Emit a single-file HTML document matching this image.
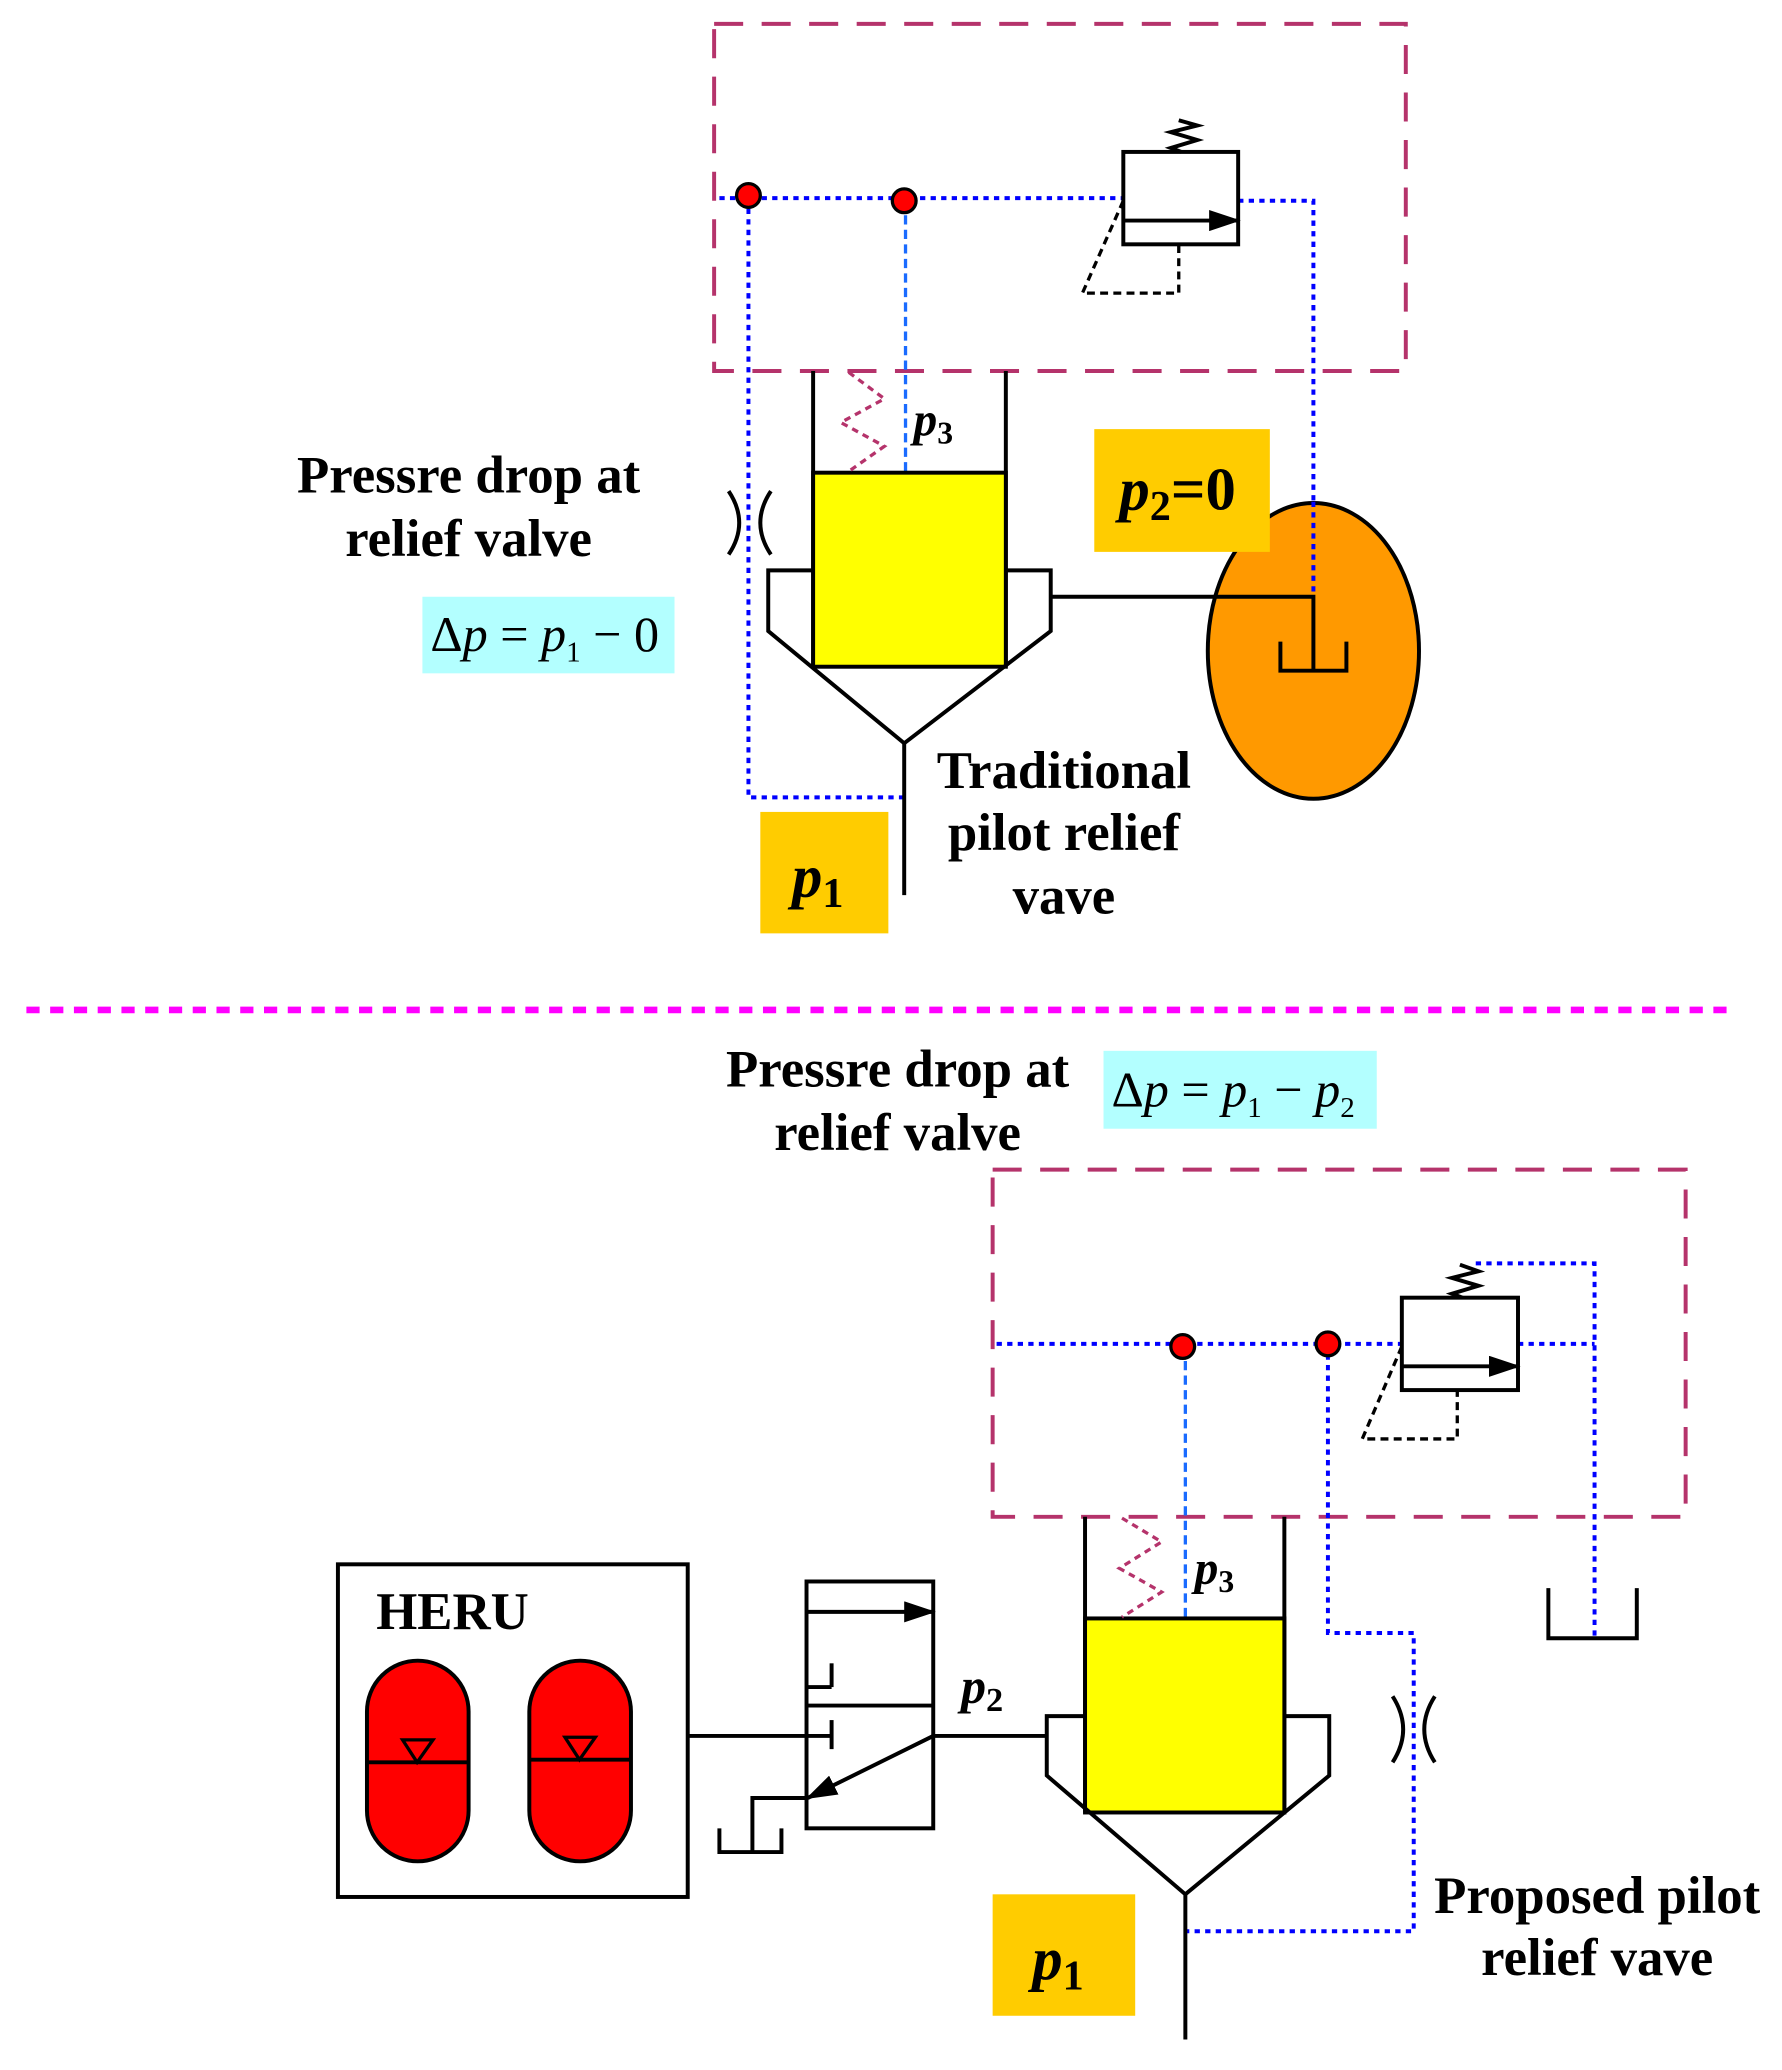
<!DOCTYPE html>
<html><head><meta charset="utf-8">
<style>
html,body{margin:0;padding:0;background:#fff;}
svg{display:block;}
text{font-family:"Liberation Serif",serif;}
</style></head>
<body>
<svg width="1782" height="2070" viewBox="0 0 1350 1568" xmlns="http://www.w3.org/2000/svg">
<defs>
<marker id="ah2" markerWidth="24" markerHeight="16" refX="22" refY="8" orient="auto" markerUnits="userSpaceOnUse"><path d="M0,0 L24,8 L0,16 z" fill="#000"/></marker>
</defs>
<g fill="none" stroke-linecap="butt">
<!-- TOP -->
<rect x="541" y="18" width="524" height="263" stroke="#B5336B" stroke-width="3" stroke-dasharray="22,14"/>
<polyline points="545,150 851,150" stroke="#0000ff" stroke-width="3" stroke-dasharray="4,4"/>
<polyline points="567,150 567,604 685,604" stroke="#0000ff" stroke-width="3" stroke-dasharray="4,4"/>
<line x1="686" y1="152" x2="686" y2="358" stroke="#1a6bff" stroke-width="2.5" stroke-dasharray="7,4"/>
<polyline points="938,152 995,152 995,452" stroke="#0000ff" stroke-width="3" stroke-dasharray="4,4"/>
<ellipse cx="995" cy="493" rx="80" ry="112" fill="#FF9900" stroke="#000" stroke-width="3"/>
<polyline points="796,452 995,452 995,508" stroke="#000" stroke-width="3"/>
<polyline points="970,486 970,508 1020,508 1020,486" stroke="#000" stroke-width="3"/>
<line x1="995" y1="380" x2="995" y2="452" stroke="#0000ff" stroke-width="3" stroke-dasharray="4,4"/>
<rect x="851" y="115" width="87" height="70" fill="#fff" stroke="#000" stroke-width="3"/>
<line x1="851" y1="167" x2="938" y2="167" stroke="#000" stroke-width="3" marker-end="url(#ah2)"/>
<polyline points="895,115 887,112 907,106 887,100 907,95 893,91" stroke="#000" stroke-width="3"/>
<polyline points="851,152 820,222 893,222 893,185" stroke="#000" stroke-width="2.5" stroke-dasharray="6,4"/>
<circle cx="567" cy="148" r="9" fill="#f00" stroke="#000" stroke-width="2.5"/>
<circle cx="685" cy="152" r="9" fill="#f00" stroke="#000" stroke-width="2.5"/>
<polyline points="616,281 616,505" stroke="#000" stroke-width="3"/>
<polyline points="762,281 762,505" stroke="#000" stroke-width="3"/>
<rect x="616" y="358" width="146" height="147" fill="#ffff00" stroke="#000" stroke-width="3"/>
<polyline points="643,282 670,302 637,320 670,338 643,357" stroke="#B5336B" stroke-width="2.5" stroke-dasharray="5,4"/>
<polyline points="616,432 582,432 582,478 685,563 796,478 796,432 762,432" stroke="#000" stroke-width="3"/>
<line x1="685" y1="563" x2="685" y2="678" stroke="#000" stroke-width="3"/>
<path d="M552,372 Q568,396 552,420 M584,372 Q568,396 584,420" stroke="#000" stroke-width="3"/>
<line x1="20" y1="765" x2="1315" y2="765" stroke="#ff00ff" stroke-width="5" stroke-dasharray="10,8"/>

<!-- BOTTOM -->
<rect x="752" y="886" width="525" height="263" stroke="#B5336B" stroke-width="3" stroke-dasharray="22,14"/>
<line x1="755" y1="1018" x2="1062" y2="1018" stroke="#0000ff" stroke-width="3" stroke-dasharray="4,4"/>
<line x1="1150" y1="1018" x2="1208" y2="1018" stroke="#0000ff" stroke-width="3" stroke-dasharray="4,4"/>
<polyline points="1118,957 1208,957 1208,1240" stroke="#0000ff" stroke-width="3" stroke-dasharray="4,4"/>
<polyline points="1173,1203 1173,1241 1240,1241 1240,1203" stroke="#000" stroke-width="3"/>
<line x1="898" y1="1020" x2="898" y2="1226" stroke="#1a6bff" stroke-width="2.5" stroke-dasharray="7,4"/>
<polyline points="1006,1018 1006,1237 1071,1237 1071,1463 898,1463" stroke="#0000ff" stroke-width="3" stroke-dasharray="4,4"/>
<rect x="1062" y="983" width="88" height="70" fill="#fff" stroke="#000" stroke-width="3"/>
<line x1="1062" y1="1035" x2="1150" y2="1035" stroke="#000" stroke-width="3" marker-end="url(#ah2)"/>
<polyline points="1108,983 1100,980 1120,974 1100,968 1120,963 1106,958" stroke="#000" stroke-width="3"/>
<polyline points="1062,1020 1032,1090 1104,1090 1104,1053" stroke="#000" stroke-width="2.5" stroke-dasharray="6,4"/>
<circle cx="896" cy="1020" r="9" fill="#f00" stroke="#000" stroke-width="2.5"/>
<circle cx="1006" cy="1018" r="9" fill="#f00" stroke="#000" stroke-width="2.5"/>
<line x1="822" y1="1149" x2="822" y2="1373" stroke="#000" stroke-width="3"/>
<line x1="973" y1="1149" x2="973" y2="1373" stroke="#000" stroke-width="3"/>
<rect x="822" y="1226" width="151" height="147" fill="#ffff00" stroke="#000" stroke-width="3"/>
<polyline points="850,1150 880,1168 848,1188 880,1206 850,1225" stroke="#B5336B" stroke-width="2.5" stroke-dasharray="5,4"/>
<polyline points="822,1300 793,1300 793,1345 898,1435 1007,1345 1007,1300 973,1300" stroke="#000" stroke-width="3"/>
<line x1="898" y1="1435" x2="898" y2="1545" stroke="#000" stroke-width="3"/>
<path d="M1055,1285 Q1071,1310 1055,1335 M1087,1285 Q1071,1310 1087,1335" stroke="#000" stroke-width="3"/>
<rect x="256" y="1185" width="265" height="252" fill="#fff" stroke="#000" stroke-width="3"/>
<rect x="278" y="1258" width="77" height="152" rx="38.5" ry="38.5" fill="#f00" stroke="#000" stroke-width="3"/>
<rect x="401" y="1258" width="77" height="152" rx="38.5" ry="38.5" fill="#f00" stroke="#000" stroke-width="3"/>
<line x1="278" y1="1335" x2="355" y2="1335" stroke="#000" stroke-width="3"/>
<line x1="401" y1="1333" x2="478" y2="1333" stroke="#000" stroke-width="3"/>
<path d="M305,1318 L328,1318 L316,1335 z" stroke="#000" stroke-width="2.5"/>
<path d="M428,1316 L451,1316 L439,1333 z" stroke="#000" stroke-width="2.5"/>
<line x1="521" y1="1315" x2="630" y2="1315" stroke="#000" stroke-width="3"/>
<rect x="611" y="1198" width="96" height="187" fill="#fff" stroke="#000" stroke-width="3"/>
<line x1="611" y1="1292" x2="707" y2="1292" stroke="#000" stroke-width="3"/>
<line x1="611" y1="1221" x2="707" y2="1221" stroke="#000" stroke-width="3" marker-end="url(#ah2)"/>
<line x1="611" y1="1278" x2="630" y2="1278" stroke="#000" stroke-width="3"/>
<line x1="630" y1="1260" x2="630" y2="1278" stroke="#000" stroke-width="3"/>
<line x1="611" y1="1315" x2="630" y2="1315" stroke="#000" stroke-width="3"/>
<line x1="630" y1="1303" x2="630" y2="1325" stroke="#000" stroke-width="3"/>
<line x1="707" y1="1315" x2="612" y2="1362" stroke="#000" stroke-width="3" marker-end="url(#ah2)"/>
<line x1="707" y1="1315" x2="793" y2="1315" stroke="#000" stroke-width="3"/>
<polyline points="611,1362 570,1362 570,1403" stroke="#000" stroke-width="3"/>
<polyline points="545,1385 545,1403 592,1403 592,1385" stroke="#000" stroke-width="3"/>
</g>

<rect x="829" y="325" width="133" height="93" fill="#FFCC00"/>
<rect x="576" y="615" width="97" height="92" fill="#FFCC00"/>
<rect x="320" y="452" width="191" height="58" fill="#B3FFFF"/>
<rect x="836" y="796" width="207" height="59" fill="#B3FFFF"/>
<rect x="752" y="1435" width="108" height="92" fill="#FFCC00"/>

<g fill="#000" font-weight="bold" font-size="40" text-anchor="middle">
<text x="355" y="373">Pressre drop at</text>
<text x="355" y="421">relief valve</text>
<text x="806" y="597">Traditional</text>
<text x="806" y="644">pilot relief</text>
<text x="806" y="692">vave</text>
<text x="680" y="823">Pressre drop at</text>
<text x="680" y="871">relief valve</text>
<text x="1210" y="1449">Proposed pilot</text>
<text x="1210" y="1496">relief vave</text>
</g>
<text x="285" y="1234" font-size="40" font-weight="bold">HERU</text>
<g font-style="italic" font-weight="bold">
<text x="692" y="330" font-size="36">p<tspan font-size="24" font-style="normal" dy="6">3</tspan></text>
<text x="905" y="1200" font-size="36">p<tspan font-size="24" font-style="normal" dy="6">3</tspan></text>
<text x="728" y="1290" font-size="38">p<tspan font-size="26" font-style="normal" dy="6">2</tspan></text>
<text x="848" y="386" font-size="46">p<tspan font-size="32" font-style="normal" dy="8">2</tspan><tspan dy="-8" font-style="normal">=0</tspan></text>
<text x="600" y="679" font-size="46">p<tspan font-size="32" font-style="normal" dy="8">1</tspan></text>
<text x="782" y="1499" font-size="46">p<tspan font-size="32" font-style="normal" dy="8">1</tspan></text>
</g>
<g font-size="38">
<text x="326" y="493">Δ<tspan font-style="italic">p</tspan> = <tspan font-style="italic">p</tspan><tspan font-size="22" dy="8">1</tspan><tspan dy="-8"> − 0</tspan></text>
<text x="842" y="838">Δ<tspan font-style="italic">p</tspan> = <tspan font-style="italic">p</tspan><tspan font-size="22" dy="8">1</tspan><tspan dy="-8"> − </tspan><tspan font-style="italic">p</tspan><tspan font-size="22" dy="8">2</tspan></text>
</g>
</svg>
</body></html>
